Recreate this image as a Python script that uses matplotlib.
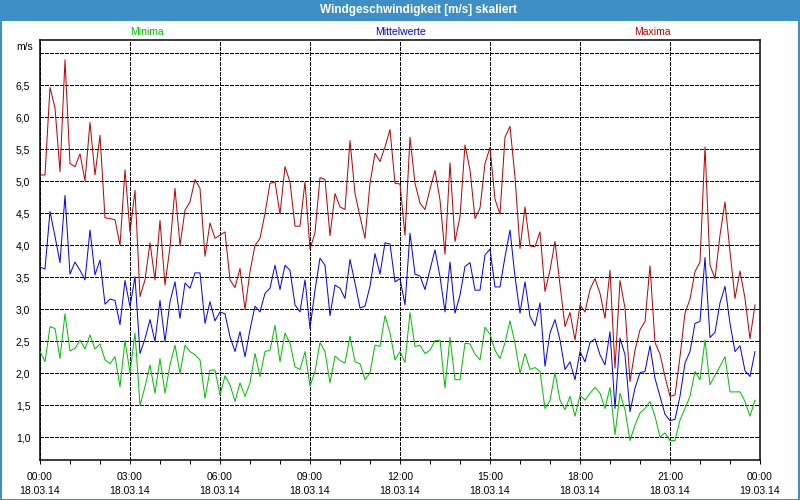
import matplotlib
matplotlib.use('Agg')
import matplotlib.pyplot as plt
import matplotlib.dates as mdates
from matplotlib.patches import Rectangle
import pandas as pd

# ---------------- data ----------------
start_time = '2014-03-18 00:00'
end_time = '2014-03-19 00:00'
n_points = 144  # 10-minute values

maxima = [5.1, 5.1, 6.47, 6.15, 5.15, 6.9, 5.28, 5.23, 5.43, 5.01,
          5.92, 5.1, 5.72, 4.43, 4.42, 4.4, 4.0, 5.18, 4.21, 4.86,
          3.2, 3.46, 4.04, 3.46, 4.39, 3.38, 3.98, 4.89, 4.0, 4.55,
          4.68, 5.03, 4.89, 3.83, 4.35, 4.11, 4.16, 4.21, 3.46, 3.34,
          3.64, 3.0, 3.59, 4.0, 4.11, 4.5, 4.97, 4.99, 4.49, 5.23,
          4.99, 4.3, 4.3, 4.99, 3.94, 4.2, 5.06, 5.03, 4.15, 4.81,
          4.6, 4.56, 5.64, 4.81, 4.45, 4.11, 4.97, 5.44, 5.31, 5.54,
          5.81, 4.97, 4.96, 4.16, 5.69, 4.97, 4.66, 4.56, 4.88, 5.17,
          4.71, 3.86, 5.29, 4.06, 4.45, 5.57, 5.18, 4.42, 4.58, 5.28,
          5.53, 4.72, 4.49, 5.69, 5.86, 5.07, 3.95, 4.6, 3.99, 3.98,
          4.21, 3.28, 3.61, 4.06, 3.38, 2.73, 2.95, 2.52, 3.07, 2.96,
          3.31, 3.48, 3.25, 2.86, 3.61, 2.08, 3.45, 3.02, 1.87, 2.36,
          2.68, 2.81, 3.68, 2.48, 2.3, 1.95, 1.64, 1.66, 2.26, 2.94,
          3.16, 3.59, 3.74, 5.54, 3.69, 3.48, 4.16, 4.68, 3.9, 3.17,
          3.6, 3.17, 2.54, 3.07]

mittelwerte = [3.66, 3.63, 4.53, 4.14, 3.73, 4.78, 3.55, 3.74, 3.61, 3.46,
               4.24, 3.54, 3.77, 3.08, 3.16, 3.14, 2.76, 3.45, 3.04, 3.51,
               2.31, 2.54, 2.84, 2.5, 3.14, 2.5, 3.12, 3.43, 2.86, 3.41,
               3.33, 3.57, 3.57, 2.78, 3.12, 2.82, 2.96, 2.93, 2.57, 2.34,
               2.65, 2.26, 2.68, 3.05, 2.96, 3.25, 3.33, 3.69, 3.31, 3.69,
               3.61, 3.07, 2.96, 3.46, 2.7, 3.3, 3.8, 3.69, 2.9, 3.38,
               3.33, 3.17, 3.78, 3.41, 3.02, 3.05, 3.36, 3.87, 3.55, 4.04,
               4.02, 3.43, 3.48, 3.07, 4.19, 3.55, 3.52, 3.31, 3.62, 3.93,
               3.51, 2.96, 3.74, 2.94, 3.22, 3.67, 3.73, 3.3, 3.3, 3.85,
               3.94, 3.35, 3.35, 3.82, 4.24, 3.51, 2.94, 3.43, 2.89, 2.74,
               3.1, 2.11, 2.63, 2.84, 2.52, 2.06, 2.18, 1.9, 2.34, 2.18,
               2.48, 2.54, 2.29, 2.13, 2.65, 1.45, 2.55, 2.29, 1.4, 1.77,
               2.01, 2.03, 2.43, 1.92, 1.64, 1.36, 1.26, 1.28, 1.64, 2.16,
               2.34, 2.78, 2.81, 3.81, 2.56, 2.64, 3.1, 3.36, 2.78, 2.34,
               2.43, 2.04, 1.95, 2.34]

minima = [2.34, 2.18, 2.73, 2.70, 2.23, 2.93, 2.35, 2.39, 2.52, 2.38,
          2.6, 2.38, 2.46, 2.21, 2.15, 2.26, 1.79, 2.51, 2.01, 2.63,
          1.5, 1.79, 2.13, 1.69, 2.23, 1.69, 2.13, 2.44, 2.0, 2.44,
          2.34, 2.29, 2.21, 1.61, 2.05, 2.05, 1.66, 1.96, 1.82, 1.56,
          1.85, 1.64, 1.85, 2.31, 1.95, 2.34, 2.36, 2.75, 2.18, 2.63,
          2.47, 2.1, 2.06, 2.34, 1.8, 2.03, 2.48, 2.34, 1.85, 2.27,
          2.2, 2.16, 2.58, 2.18, 2.15, 1.9, 2.01, 2.44, 2.42, 2.9,
          2.63, 2.21, 2.34, 2.17, 2.95, 2.42, 2.44, 2.31, 2.36, 2.51,
          2.52, 1.77, 2.56, 1.9, 1.9, 2.47, 2.46, 2.3, 2.21, 2.72,
          2.61, 2.36, 2.23, 2.48, 2.82, 2.47, 2.0, 2.31, 2.06, 2.09,
          2.03, 1.45, 1.57, 2.01, 1.58, 1.43, 1.64, 1.33, 1.66, 1.58,
          1.69, 1.78, 1.69, 1.45, 1.78, 1.04, 1.69, 1.43, 0.95, 1.19,
          1.38, 1.45, 1.56, 1.33, 1.0, 1.07, 0.95, 0.95, 1.27, 1.45,
          1.64, 2.03, 1.9, 2.52, 1.82, 1.97, 2.11, 2.26, 1.71, 1.71,
          1.71, 1.56, 1.33, 1.58]

series_names = ['Minima', 'Mittelwerte', 'Maxima']

ytick_values = [1.0, 1.5, 2.0, 2.5, 3.0, 3.5, 4.0, 4.5, 5.0, 5.5, 6.0, 6.5, 7.0]
ytick_labels = ['1,0', '1,5', '2,0', '2,5', '3,0', '3,5', '4,0', '4,5',
                '5,0', '5,5', '6,0', '6,5', '']

xtick_times = ['2014-03-18 00:00', '2014-03-18 03:00', '2014-03-18 06:00',
               '2014-03-18 09:00', '2014-03-18 12:00', '2014-03-18 15:00',
               '2014-03-18 18:00', '2014-03-18 21:00', '2014-03-19 00:00']
xtick_labels = ['00:00\n18.03.14', '03:00\n18.03.14', '06:00\n18.03.14',
                '09:00\n18.03.14', '12:00\n18.03.14', '15:00\n18.03.14',
                '18:00\n18.03.14', '21:00\n18.03.14', '00:00\n19.03.14']

title_text = 'Windgeschwindigkeit [m/s] skaliert'
unit_text = 'm/s'

# ---------------- style ----------------
PX = 72 / 100.0  # one pixel in points at dpi=100
plt.rcParams['font.family'] = ['Liberation Sans', 'DejaVu Sans']
plt.rcParams['lines.scale_dashes'] = False

c_min = '#00c000'
c_mid = '#0000ff'
c_max = '#c00000'
c_bar = '#3d8fc6'

fig = plt.figure(figsize=(8, 5), dpi=100, facecolor='white')

# title bar and window border
fig.patches.append(Rectangle((0, 1 - 21 / 500), 1, 21 / 500, transform=fig.transFigure,
                             facecolor=c_bar, edgecolor='none', zorder=0))
fig.patches.append(Rectangle((0.5 / 800, 0.5 / 500), 1 - 1.5 / 800, 1 - 1.5 / 500,
                             transform=fig.transFigure, facecolor='none',
                             edgecolor=c_bar, linewidth=2 * PX, zorder=5))
fig.text(418 / 800, 1 - 10.5 / 500, title_text, color='white', fontsize=8.5,
         fontweight='bold', ha='center', va='center')

# axes: x 40..760 px, y 40..460 px
ax = fig.add_axes([40 / 800, 40 / 500, 720 / 800, 420 / 500])
ax.set_facecolor('white')

times = pd.date_range(start_time, periods=n_points, freq='10min')
lw = 1.0 * PX
ax.plot(times, minima, color=c_min, lw=lw, zorder=3)
ax.plot(times, mittelwerte, color=c_mid, lw=lw, zorder=3)
ax.plot(times, maxima, color=c_max, lw=lw, zorder=3)

ax.set_xlim(pd.Timestamp(start_time), pd.Timestamp(end_time))
ax.set_ylim(0.645, 7.21)

ax.set_yticks(ytick_values)
ax.set_yticklabels(ytick_labels)
ax.set_xticks([pd.Timestamp(t) for t in xtick_times])
ax.set_xticklabels(xtick_labels, linespacing=1.5)
ax.xaxis.set_minor_locator(mdates.HourLocator())

ax.tick_params(axis='y', length=0, pad=7, labelsize=7.5, colors='black')
ax.tick_params(axis='x', which='major', length=3, width=PX, pad=6, labelsize=7.5)
ax.tick_params(axis='x', which='minor', length=3, width=PX)

dash = (0, (3 * PX, 2 * PX))
ax.grid(True, axis='both', which='major', color='black', linestyle=dash,
        linewidth=PX, antialiased=False, zorder=1)
ax.set_axisbelow(True)

for s in ax.spines.values():
    s.set_linewidth(1.5 * PX)
    s.set_color('black')

# series labels above plot
fig.text(147 / 800, 1 - 32 / 500, series_names[0], color=c_min, fontsize=7.5,
         ha='center', va='center')
fig.text(401 / 800, 1 - 32 / 500, series_names[1], color=c_mid, fontsize=7.5,
         ha='center', va='center')
fig.text(652 / 800, 1 - 32 / 500, series_names[2], color=c_max, fontsize=7.5,
         ha='center', va='center')

fig.text(33 / 800, 1 - 47 / 500, unit_text, fontsize=7.5, ha='right', va='center')

fig.savefig('out.png', dpi=100, facecolor='white')
